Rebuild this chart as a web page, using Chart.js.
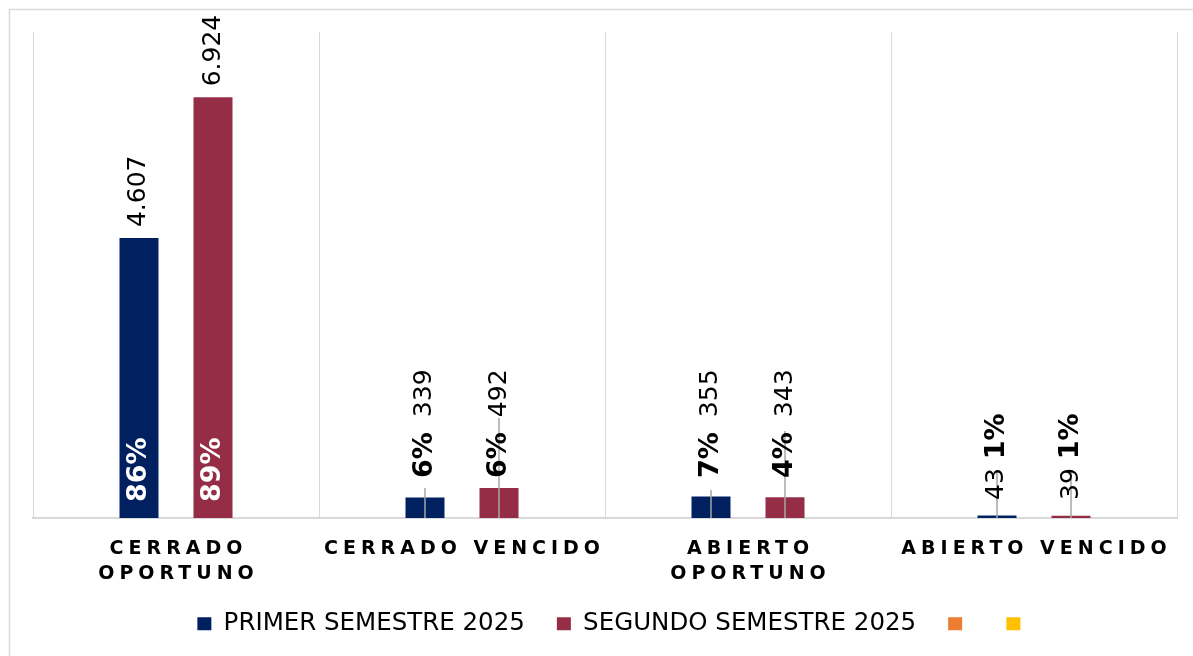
<!DOCTYPE html>
<html><head><meta charset="utf-8">
<script src="https://cdn.jsdelivr.net/npm/chart.js@4/dist/chart.umd.min.js"></script>
<style>html,body{margin:0;padding:0;background:#fff;} #wrap{position:relative;width:1193px;height:656px;} canvas{display:block;}</style>
</head><body><div id="wrap"><canvas id="c" width="1193" height="656"></canvas></div>
<script>
// ---- data ----
const categories = [["CERRADO","OPORTUNO"],["CERRADO VENCIDO"],["ABIERTO","OPORTUNO"],["ABIERTO VENCIDO"]];
const seriesNames = ["PRIMER SEMESTRE 2025","SEGUNDO SEMESTRE 2025","",""];
const seriesColors = ["#002060","#952D47","#ED7D31","#FFC000"];
const primerValues = [4607, 339, 355, 43];
const segundoValues = [6924, 492, 343, 39];
const primerPercents = ["86%","6%","7%","1%"];
const segundoPercents = ["89%","6%","4%","1%"];
const yMin = 0, yMax = 8000;
const labelLayout = ["split","pctFirst","pctFirst","valFirst"];

const FONT = "'DejaVu Sans', Verdana, sans-serif";
const VAL_FONT = "25px " + FONT;
const PCT_FONT = "bold 27px " + FONT;

function fmt(v){ return String(v).replace(/\B(?=(\d{3})+(?!\d))/g,'.'); }

function drawUp(ctx, text, x, y, font, color){
  ctx.save();
  ctx.translate(x, y);
  ctx.rotate(-Math.PI/2);
  ctx.font = font; ctx.fillStyle = color;
  ctx.textAlign = 'left'; ctx.textBaseline = 'middle';
  ctx.fillText(text, 0, 0);
  const w = ctx.measureText(text).width;
  ctx.restore();
  return w;
}

const framePlugin = {
  id:'frame',
  afterLayout(chart){
    if (chart.legend){ chart.legend.left += 10; chart.legend.right += 10; }
  },
  beforeDraw(chart){
    const ctx = chart.ctx;
    ctx.save();
    ctx.strokeStyle = '#d9d9d9'; ctx.lineWidth = 1.5;
    ctx.beginPath();
    ctx.moveTo(9.5, 656); ctx.lineTo(9.5, 9.5); ctx.lineTo(1193, 9.5);
    ctx.stroke();
    ctx.restore();
  }
};

const leaderLen = [[0,30,28,48],[0,100,87,48]];
const labelPlugin = {
  id:'barLabels',
  afterDatasetsDraw(chart){
    const ctx = chart.ctx;
    [0,1].forEach(di=>{
      const meta = chart.getDatasetMeta(di);
      const vals = di===0 ? primerValues : segundoValues;
      const pcts = di===0 ? primerPercents : segundoPercents;
      meta.data.forEach((bar,j)=>{
        const x = bar.x, top = bar.y, base = bar.base;
        const L = leaderLen[di][j];
        if (L){
          ctx.save(); ctx.strokeStyle = '#a6a6a6'; ctx.lineWidth = 1.5;
          ctx.beginPath(); ctx.moveTo(x, base); ctx.lineTo(x, base - L); ctx.stroke(); ctx.restore();
        }
        const mode = labelLayout[j];
        if (mode === 'split'){
          drawUp(ctx, fmt(vals[j]), x, top - 11, VAL_FONT, '#000');
          drawUp(ctx, pcts[j], x, base - 16, PCT_FONT, '#fff');
        } else if (mode === 'pctFirst'){
          const w = drawUp(ctx, pcts[j], x, base - 40, PCT_FONT, '#000');
          drawUp(ctx, fmt(vals[j]), x, base - 40 - w - 15, VAL_FONT, '#000');
        } else {
          const w = drawUp(ctx, fmt(vals[j]), x, base - 18, VAL_FONT, '#000');
          drawUp(ctx, pcts[j], x, base - 18 - w - 9, PCT_FONT, '#000');
        }
      });
    });
  }
};

const xLabelPlugin = {
  id:'xLabels',
  afterDraw(chart){
    const ctx = chart.ctx, xs = chart.scales.x, bottom = chart.chartArea.bottom;
    const ls = 5;
    ctx.save();
    ctx.font = "bold 19px " + FONT;
    ctx.fillStyle = '#000';
    ctx.textAlign = 'center'; ctx.textBaseline = 'alphabetic';
    try { ctx.letterSpacing = ls + 'px'; } catch(e){}
    categories.forEach((lines,i)=>{
      const cx = xs.getPixelForValue(i) + ls/2;
      lines.forEach((t,k)=>{ ctx.fillText(t, cx, bottom + 36 + k*25); });
    });
    ctx.restore();
  }
};

new Chart(document.getElementById('c'), {
  type:'bar',
  data:{
    labels: categories.map(c=>c.join(' ')),
    datasets:[
      {label: seriesNames[0], data: primerValues, backgroundColor: seriesColors[0], borderWidth:0},
      {label: seriesNames[1], data: segundoValues, backgroundColor: seriesColors[1], borderWidth:0},
      {label: seriesNames[2], data: [], backgroundColor: seriesColors[2], borderWidth:0, grouped:false},
      {label: seriesNames[3], data: [], backgroundColor: seriesColors[3], borderWidth:0, grouped:false}
    ]
  },
  options:{
    responsive:false, animation:false, events:[],
    categoryPercentage: 0.5175, barPercentage: 0.527,
    layout:{ padding:{ left:33, right:16, top:32, bottom:10 } },
    scales:{
      x:{
        grid:{ display:true, offset:true, color:'#d9d9d9', lineWidth:1, drawTicks:false },
        border:{ display:true, color:'#d9d9d9', width:2 },
        ticks:{ display:false },
        afterFit(s){ s.height = 61.5; }
      },
      y:{ display:false, min:yMin, max:yMax }
    },
    plugins:{
      legend:{
        position:'bottom',
        labels:{ boxWidth:14, boxHeight:13, padding:32, color:'#000', font:{ family:FONT, size:24.5 } }
      },
      tooltip:{ enabled:false }
    }
  },
  plugins:[framePlugin, labelPlugin, xLabelPlugin]
});
</script>
</body></html>
